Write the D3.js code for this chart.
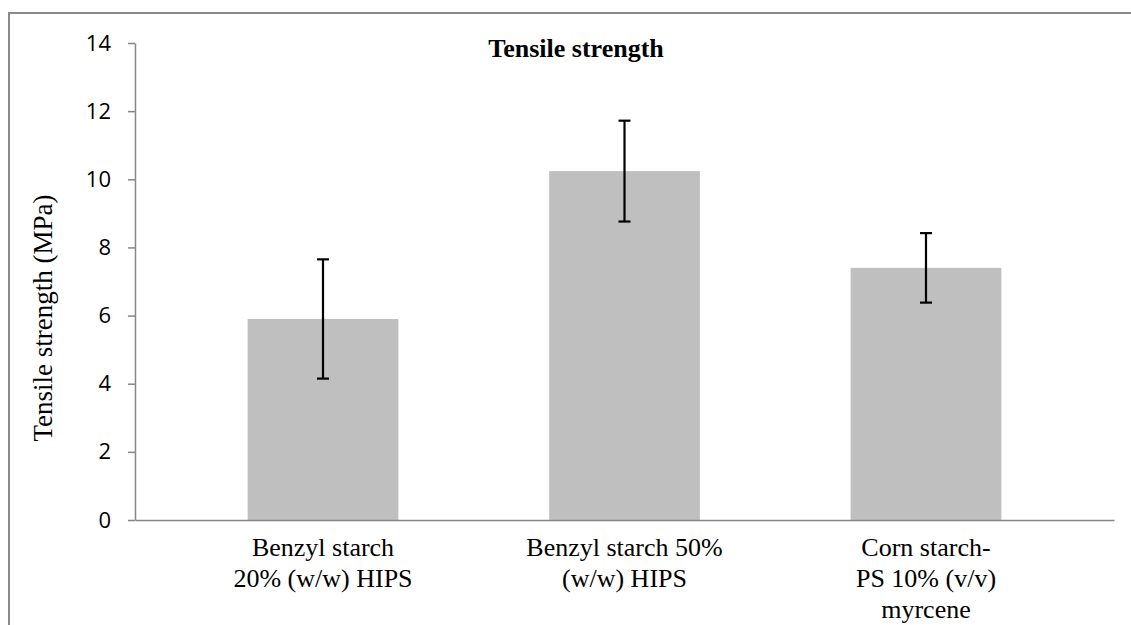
<!DOCTYPE html>
<html><head><meta charset="utf-8">
<script src="https://cdn.jsdelivr.net/npm/d3@7"></script>
<style>body{margin:0;background:#fff}svg{display:block}</style>
</head><body>
<script>
const categories = [
  ["Benzyl starch", "20% (w/w) HIPS"],
  ["Benzyl starch 50%", "(w/w) HIPS"],
  ["Corn starch-", "PS 10% (v/v)", "myrcene"]
];
const values = [5.9, 10.24, 7.4];
const errors = [1.75, 1.48, 1.02];
const yTicks = [0, 2, 4, 6, 8, 10, 12, 14];
const title = "Tensile strength";
const yTitle = "Tensile strength (MPa)";

const W = 1131, H = 625;
const svg = d3.select("body").append("svg").attr("width", W).attr("height", H);

// outer chart border
svg.append("path").attr("d", `M9,${H} V13 H${W}`).attr("fill", "none")
  .attr("stroke", "#8a8a8a").attr("stroke-width", 2);

const x0 = 135, x1 = 1114, yTop = 43, yBot = 520;
const idx = categories.map((d, i) => i);
const x = d3.scaleBand().domain(idx).range([x0, x1]).paddingInner(0.5).paddingOuter(0.3736);
const y = d3.scaleLinear().domain([0, 14]).range([yBot, yTop]);

// bars
svg.selectAll("rect.bar").data(values).enter().append("rect")
  .attr("x", (d, i) => x(i)).attr("width", x.bandwidth())
  .attr("y", d => y(d)).attr("height", d => y(0) - y(d))
  .attr("fill", "#bfbfbf");

// y axis
const yAxis = d3.axisLeft(y).tickValues(yTicks).tickSize(7).tickPadding(17).tickSizeOuter(0);
const gy = svg.append("g").attr("transform", `translate(${x0},0)`).call(yAxis);
gy.select(".domain").attr("stroke", "#868686").attr("stroke-width", 1.5);
gy.selectAll(".tick line").attr("stroke", "#868686").attr("stroke-width", 1.5);
gy.selectAll(".tick text").attr("font-family", "'Open Sans', 'Noto Sans', sans-serif")
  .attr("font-size", 22).attr("fill", "#000");

// x axis
const xAxis = d3.axisBottom(x).tickSize(0).tickFormat("");
const gx = svg.append("g").attr("transform", `translate(0,${yBot})`).call(xAxis);
gx.select(".domain").attr("stroke", "#868686").attr("stroke-width", 1.5);

// x labels
categories.forEach((lines, i) => {
  const t = svg.append("text").attr("text-anchor", "middle")
    .attr("font-family", "'Liberation Serif', 'Times New Roman', serif")
    .attr("font-size", 26).attr("fill", "#000");
  lines.forEach((ln, j) => {
    t.append("tspan").attr("x", x(i) + x.bandwidth() / 2).attr("y", 556 + j * 31).text(ln);
  });
});

// error bars
const eb = svg.append("g").attr("stroke", "#000").attr("stroke-width", 2.2);
values.forEach((v, i) => {
  const cx = x(i) + x.bandwidth() / 2;
  eb.append("line").attr("x1", cx).attr("x2", cx).attr("y1", y(v + errors[i])).attr("y2", y(v - errors[i]));
  eb.append("line").attr("x1", cx - 6).attr("x2", cx + 6).attr("y1", y(v + errors[i])).attr("y2", y(v + errors[i]));
  eb.append("line").attr("x1", cx - 6).attr("x2", cx + 6).attr("y1", y(v - errors[i])).attr("y2", y(v - errors[i]));
});

// title
svg.append("text").attr("x", 576).attr("y", 57).attr("text-anchor", "middle")
  .attr("font-family", "'Liberation Serif', 'Times New Roman', serif")
  .attr("font-weight", "bold").attr("font-size", 26).text(title);

// y title
svg.append("text").attr("transform", "translate(52,318) rotate(-90)").attr("text-anchor", "middle")
  .attr("font-family", "'Liberation Serif', 'Times New Roman', serif")
  .attr("font-size", 27).text(yTitle);
</script>
</body></html>
